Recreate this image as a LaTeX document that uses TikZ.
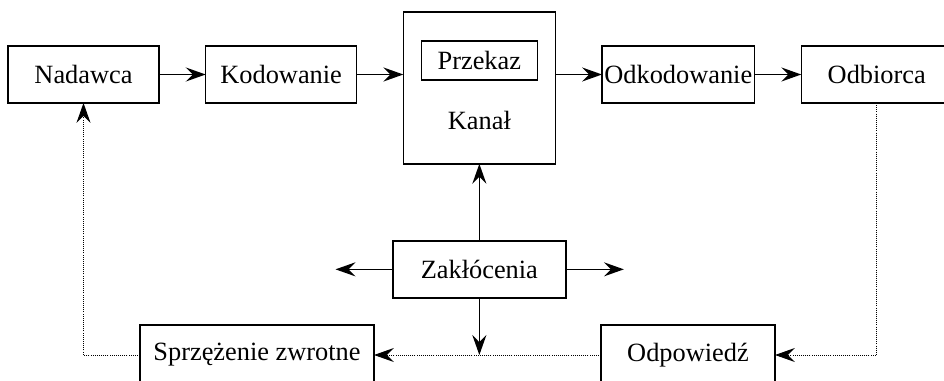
\documentclass[tikz,border=0pt]{standalone}
\usepackage{fontspec}
\setmainfont{Liberation Serif}
\usetikzlibrary{arrows.meta, positioning, calc}
\tikzset{
  arrowK/.style={-{Stealth[length=17pt, width=12pt, inset=6pt]}, line width=1.3pt},
  arrowF/.style={-{Stealth[length=17pt, width=12pt, inset=6pt]}, line width=0.8pt, densely dotted},
  boxW/.style={rectangle, draw, line width=1.3pt, align=center, inner sep=2pt,
               outer sep=0pt, minimum width=4.53cm, minimum height=1.71cm},
  boxKanal/.style={boxW, minimum width=4.56cm, minimum height=4.56cm},
  boxPrzekaz/.style={boxW, minimum width=3.48cm, minimum height=1.17cm},
  boxZak/.style={boxW, minimum width=5.19cm},
  boxDol/.style={boxW, minimum height=1.8cm},
}
\begin{document}
\begin{tikzpicture}[x=0.03cm, y=0.03cm, node distance=1.4cm,
    font=\fontsize{22.5pt}{26pt}\selectfont]
    \useasboundingbox (0,0) rectangle (944,380);
    % gorny rzad
    \node[boxW] (nad) at (83.5,305.5) {Nadawca};
    \node[boxW, right=of nad] (kod) {Kodowanie};
    \node[boxKanal, right=of kod, yshift=-0.4cm] (kan) {};
    \node[boxPrzekaz, below=0.87cm of kan.north] (prz) {Przekaz};
    \node (kanl) at ([yshift=1.29cm]kan.south) {Kanał};
    \node[boxW, right=of kan, yshift=0.4cm] (odk) {Odkodowanie};
    \node[boxW, right=of odk] (odb) {Odbiorca};
    % zaklocenia
    \node[boxZak, below=2.31cm of kan] (zak) {Zakłócenia};
    \coordinate (zakL) at ([xshift=-1.72cm]zak.west);
    \coordinate (zakR) at ([xshift=1.74cm]zak.east);
    % dolny rzad
    \node[boxDol, minimum width=7.02cm] (spr) at (257,25) {Sprzężenie zwrotne};
    \node[boxDol, minimum width=5.22cm] (odp) at (688,25) {Odpowiedź};
    \coordinate (zakD) at (zak.south |- spr.east);
    % strzalki
    \draw[arrowK] (nad) -- (kod);
    \draw[arrowK] (kod.east) -- (kod.east -| kan.west);
    \draw[arrowK] (kan.east |- odk.west) -- (odk.west);
    \draw[arrowK] (odk) -- (odb);
    \draw[arrowK] (zak.north) -- (zak.north |- kan.south);
    \draw[arrowK] (zak.west) -- (zakL);
    \draw[arrowK] (zak.east) -- (zakR);
    \draw[arrowK] (zak.south) -- (zakD);
    % sprzezenie zwrotne
    \draw[arrowF] (odb.south) |- (odp.east);
    \draw[arrowF] (odp.west) -- (spr.east);
    \draw[arrowF] (spr.west) -| (nad.south);
\end{tikzpicture}
\end{document}
